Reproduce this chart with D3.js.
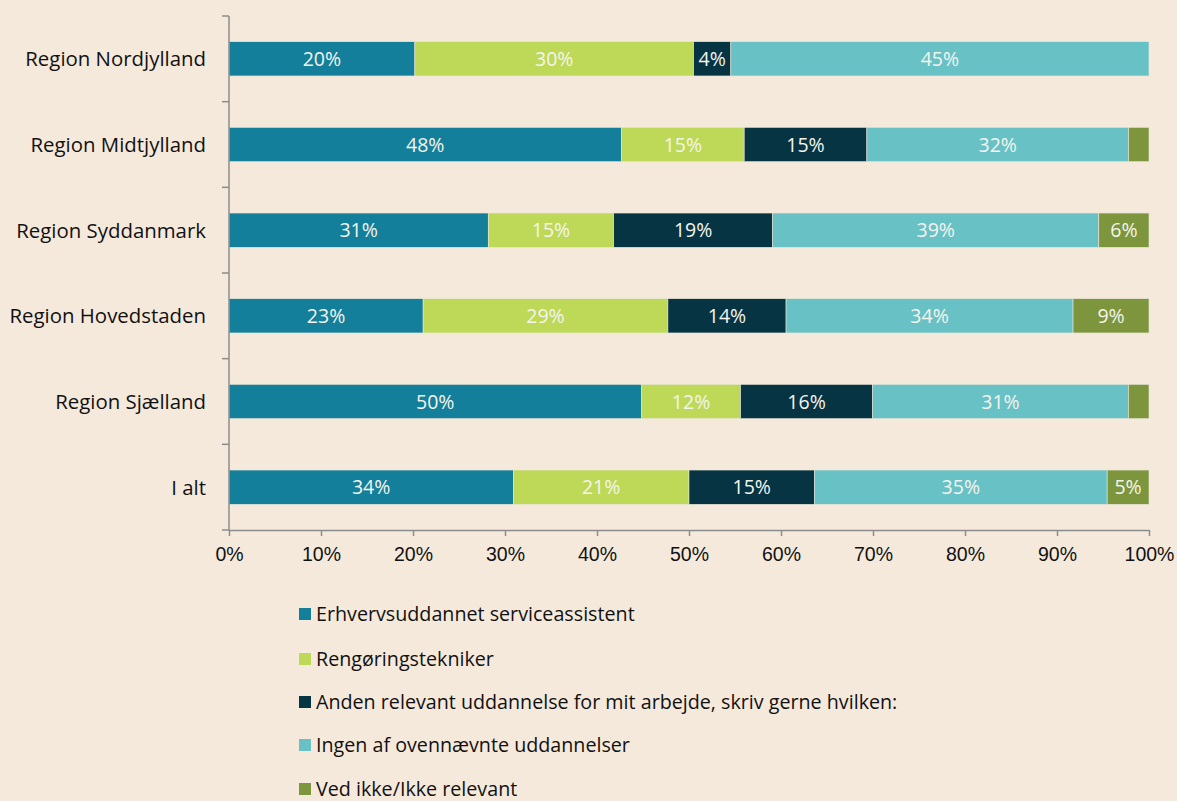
<!DOCTYPE html>
<html><head><meta charset="utf-8">
<script src="https://cdn.jsdelivr.net/npm/d3@7"></script>
<style>
html,body{margin:0;padding:0;background:#f5e9dc;}
svg{display:block;font-family:"Open Sans","Noto Sans",sans-serif;}
</style></head>
<body><svg id="c" width="1177" height="801"></svg>
<script>
const categories = ["Region Nordjylland","Region Midtjylland","Region Syddanmark","Region Hovedstaden","Region Sjælland","I alt"];
const seriesNames = ["Erhvervsuddannet serviceassistent","Rengøringstekniker","Anden relevant uddannelse for mit arbejde, skriv gerne hvilken:","Ingen af ovennævnte uddannelser","Ved ikke/Ikke relevant"];
const serviceassistent = [20,48,31,23,50,34];
const rengoring = [30,15,15,29,12,21];
const anden = [4,15,19,14,16,15];
const ingen = [45,32,39,34,31,35];
const vedIkke = [0,2.5,6,9,2.5,5];
const xTicks = [0,0.1,0.2,0.3,0.4,0.5,0.6,0.7,0.8,0.9,1];
const colors = ["#137f9a","#bed957","#073443","#68c1c5","#7d963d"];

const seriesArrays = [serviceassistent, rengoring, anden, ingen, vedIkke];
const rows = categories.map((c,i)=>{
  const o = {cat:c};
  seriesNames.forEach((s,j)=>o[s]=seriesArrays[j][i]);
  return o;
});
const stack = d3.stack().keys(seriesNames).offset(d3.stackOffsetExpand);
const stacked = stack(rows);

const svg = d3.select("#c");
const L=229, R=1149, T=16, B=530;
const x = d3.scaleLinear().domain([0,1]).range([L,R]);
const y = d3.scaleBand().domain(categories).range([T,B]).paddingInner(0.6).paddingOuter(0.3);
const axisColor="#8c8c8c";

// bars
const g = svg.append("g");
stacked.forEach((layer,j)=>{
  const lg = g.append("g");
  lg.selectAll("rect").data(layer).join("rect")
    .attr("x",d=>x(d[0])).attr("width",d=>x(d[1])-x(d[0]))
    .attr("y",d=>y(d.data.cat)).attr("height",y.bandwidth())
    .attr("fill",colors[j]).attr("stroke","#e9e6d8").attr("stroke-width",0.6);
  lg.selectAll("text").data(layer.filter(d=>d.data[layer.key]>=3)).join("text")
    .attr("x",d=>(x(d[0])+x(d[1]))/2).attr("y",d=>y(d.data.cat)+y.bandwidth()/2)
    .attr("dy","0.36em").attr("text-anchor","middle")
    .attr("fill","#f4f4ee").style("font-size","19.5px")
    .text(d=>d.data[layer.key]+"%");
});

// y axis
const ya = svg.append("g");
ya.append("line").attr("x1",L).attr("x2",L).attr("y1",T).attr("y2",B).attr("stroke",axisColor).attr("stroke-width",1.5);
const bounds = d3.range(categories.length+1).map(i=>T+(B-T)*i/categories.length);
ya.selectAll("line.t").data(bounds).join("line").attr("class","t")
  .attr("x1",L-7).attr("x2",L).attr("y1",d=>d).attr("y2",d=>d).attr("stroke",axisColor).attr("stroke-width",1.5);
ya.selectAll("text").data(categories).join("text")
  .attr("x",L-23).attr("y",d=>y(d)+y.bandwidth()/2).attr("dy","0.36em")
  .attr("text-anchor","end").attr("fill","#111").style("font-size","20.4px").text(d=>d);

// x axis
const xa = svg.append("g").attr("transform",`translate(0,${B})`)
  .call(d3.axisBottom(x).tickValues(xTicks).tickFormat(d3.format(".0%")).tickSize(6).tickSizeOuter(0).tickPadding(11));
xa.select(".domain").attr("stroke",axisColor).attr("stroke-width",1.5);
xa.selectAll(".tick line").attr("stroke",axisColor).attr("stroke-width",1.5);
xa.selectAll(".tick text").attr("fill","#111").style("font-size","19.5px").style("font-family",null);

// legend
const lgY = [614,659,702,745,789];
const leg = svg.append("g");
seriesNames.forEach((s,j)=>{
  leg.append("rect").attr("x",299).attr("y",lgY[j]-6).attr("width",12).attr("height",12).attr("fill",colors[j]);
  leg.append("text").attr("x",316).attr("y",lgY[j]).attr("dy","0.36em").attr("fill","#111").style("font-size","19.7px").text(s);
});
</script></body></html>
